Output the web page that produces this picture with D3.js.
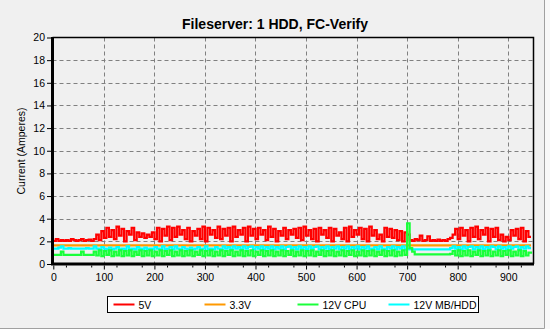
<!DOCTYPE html>
<html>
<head>
<meta charset="utf-8">
<script src="https://cdn.jsdelivr.net/npm/d3@7"></script>
<style>
  html, body { margin: 0; padding: 0; background: #f0f0f0; }
  svg { display: block; }
</style>
</head>
<body>
<div id="chart"></div>
<script>
// Samples every 5 seconds, 0..945
const sampleStep = 5;
const sampleCount = 190;

const current5V = [
  2.05,2.2,2.05,2.1,2.05,2.1,2.05,2.2,2.1,2.05,2.1,2.2,2.05,2.1,2.15,2.05,
  2.2,2.6,2.1,2.9,2.3,3.2,2.4,3.0,2.2,3.3,
  2.5,3.1,2.0,2.9,2.6,3.2,2.1,2.8,2.4,2.7,
  2.3,2.6,2.4,2.8,2.2,3.2,2.0,3.1,2.5,3.3,
  2.1,3.2,2.4,3.3,2.6,3.0,2.2,3.2,2.0,2.9,
  2.5,3.1,2.2,3.3,2.0,3.2,2.6,3.0,2.3,3.3,
  2.2,3.1,2.5,3.2,2.0,3.3,2.4,3.0,2.6,3.2,
  2.0,3.3,2.5,3.1,2.2,3.2,2.6,3.0,2.1,3.3,
  2.4,3.1,2.0,2.9,2.5,3.2,2.2,3.0,2.6,3.1,
  2.3,3.2,2.1,3.3,2.5,3.0,2.2,3.1,2.0,3.2,
  2.6,3.0,2.3,3.2,2.0,3.1,2.5,2.8,2.2,3.2,
  2.0,3.3,2.4,3.0,2.6,3.2,2.2,3.1,2.0,3.3,
  2.5,3.0,2.2,2.6,2.0,3.2,2.4,3.1,2.3,3.0,
  2.1,2.9,2.0,2.8,
  2.6,
  2.1,2.05,2.2,2.1,2.5,2.05,2.1,2.45,2.05,2.1,2.05,2.15,2.05,2.1,2.05,2.2,2.3,
  2.6,3.1,2.2,3.2,2.5,3.0,2.0,3.2,2.4,3.3,2.2,3.0,2.6,3.2,2.0,3.1,2.4,3.2,2.1,2.6,
  2.0,2.4,2.1,3.0,2.5,3.1,2.2,3.2,2.0,2.9,2.4,
  2.4
];

const current12VMB = [
  1.35,1.35,1.45,1.55,1.35,1.35,1.4,1.35,1.35,1.35,1.35,1.35,1.35,1.4,1.35,1.35,
  1.55,1.35,1.3,1.5,1.35,1.3,1.45,1.3,1.35,1.5,
  1.3,1.35,1.3,1.55,1.3,1.35,1.3,1.5,1.35,1.3,
  1.45,1.3,1.35,1.3,1.5,1.35,1.3,1.55,1.3,1.35,
  1.5,1.3,1.55,1.35,1.3,1.5,1.35,1.3,1.45,1.3,
  1.35,1.5,1.3,1.35,1.55,1.3,1.35,1.3,1.5,1.35,
  1.3,1.55,1.35,1.5,1.3,1.55,1.35,1.5,1.3,1.55,
  1.35,1.5,1.55,1.3,1.5,1.35,1.55,1.3,1.5,1.35,
  1.55,1.3,1.5,1.35,1.55,1.3,1.5,1.55,1.35,1.5,
  1.3,1.55,1.35,1.5,1.3,1.55,1.35,1.5,1.55,1.3,
  1.5,1.35,1.55,1.3,1.5,1.35,1.55,1.3,1.5,1.35,
  1.55,1.3,1.5,1.35,1.55,1.3,1.5,1.35,1.55,1.3,
  1.35,1.5,1.3,1.55,1.35,1.3,1.5,1.35,1.55,1.3,
  1.5,1.35,1.55,1.3,
  1.35,
  1.3,1.3,1.3,1.3,1.3,1.3,1.3,1.3,1.3,1.3,1.3,1.3,1.3,1.3,1.3,1.3,1.4,
  1.55,1.35,1.5,1.3,1.55,1.35,1.5,1.55,1.3,1.5,1.35,1.55,1.3,1.5,1.35,1.55,
  1.5,1.3,1.55,1.35,1.5,1.3,1.55,1.35,1.5,1.55,1.3,1.5,1.35,1.55,1.4,
  1.4
];

const current12VCPU = [
  0.8,0.8,0.8,1.1,0.8,0.8,0.8,0.8,0.8,0.8,0.8,1.1,0.8,0.8,0.8,0.8,
  1.1,0.75,1.2,0.7,1.15,0.8,1.2,0.7,1.1,0.75,
  1.2,0.7,1.15,0.75,1.2,0.7,1.1,0.8,1.2,0.7,
  1.15,0.75,1.2,0.7,1.1,0.75,1.2,0.7,1.15,0.8,
  1.2,0.7,1.1,0.75,1.2,0.7,1.15,0.75,1.2,0.7,
  1.1,0.8,1.2,0.7,1.15,0.75,1.2,0.7,1.1,0.75,
  1.2,0.7,1.15,0.8,1.2,0.7,1.1,0.75,1.2,0.7,
  1.15,0.75,1.2,0.7,1.1,0.8,1.2,0.7,1.15,0.75,
  1.2,0.7,1.1,0.75,1.2,0.7,1.15,0.8,1.2,0.7,
  1.1,0.75,1.2,0.7,1.15,0.75,1.2,0.7,1.1,0.8,
  1.2,0.7,1.15,0.75,1.2,0.7,1.1,0.75,1.2,0.7,
  1.15,0.8,1.2,0.7,1.1,0.75,1.2,0.7,1.15,0.75,
  1.2,0.7,1.1,0.8,1.2,0.7,1.15,0.75,1.2,0.7,
  1.1,0.75,1.2,0.8,
  3.6,
  1.4,1.1,0.85,0.85,0.85,0.85,0.85,0.85,0.85,0.85,0.85,0.85,0.85,0.85,0.85,0.85,0.9,
  1.15,0.75,1.2,0.7,1.15,0.75,1.2,0.7,1.1,0.8,1.2,0.7,1.15,0.75,1.2,0.7,
  1.1,0.75,1.2,0.7,1.15,0.8,1.2,0.7,1.1,0.75,1.2,0.7,1.15,0.75,1.0,
  0.9
];

// 3.3V rail is flat, read at a few points
const time3V3 = [0, 200, 400, 600, 800, 945];
const current3V3 = [1.65, 1.65, 1.65, 1.65, 1.65, 1.65];

const xTicks = [0, 100, 200, 300, 400, 500, 600, 700, 800, 900];
const yTicks = [0, 2, 4, 6, 8, 10, 12, 14, 16, 18, 20];

const seriesNames = ["5V", "3.3V", "12V CPU", "12V MB/HDD"];
const seriesColors = ["#ff0000", "#ff9900", "#1aff3a", "#00ffff"];

// Chart dimensions
const width = 550;
const height = 329;
const plotLeft = 52.5;
const plotRight = 533.5;
const plotTop = 37.5;
const plotBottom = 264;

const time = d3.range(sampleCount).map(i => i * sampleStep);

const x = d3.scaleLinear()
    .domain([0, 950])
    .range([plotLeft + 0.8, plotRight]);

const y = d3.scaleLinear()
    .domain([0, 20])
    .range([plotBottom, plotTop]);

const color = d3.scaleOrdinal()
    .domain(seriesNames)
    .range(seriesColors);

const svg = d3.select("#chart").append("svg")
    .attr("width", width)
    .attr("height", height)
    .attr("viewBox", [0, 0, width, height]);

// outer frame
svg.append("rect")
    .attr("width", width)
    .attr("height", height)
    .attr("fill", "#f8f8f8");
svg.append("rect")
    .attr("width", 544)
    .attr("height", 328)
    .attr("fill", "#f0f0f0");
svg.append("path")
    .attr("d", "M544.5,0V328.5H0")
    .attr("fill", "none")
    .attr("stroke", "#a0a0a0");

// Title
svg.append("text")
    .attr("x", 275)
    .attr("y", 29)
    .attr("text-anchor", "middle")
    .style("font-family", "Liberation Sans, Arial, sans-serif")
    .style("font-size", "14px")
    .style("font-weight", "bold")
    .text("Fileserver: 1 HDD, FC-Verify");

// Gridlines
const grid = svg.append("g")
    .attr("stroke", "#808080")
    .attr("stroke-dasharray", "4,3")
    .attr("stroke-width", 1);

grid.selectAll(".vgrid")
  .data(xTicks.filter(d => d > 0))
  .join("line")
    .attr("x1", d => Math.round(x(d)) + 0.5)
    .attr("x2", d => Math.round(x(d)) + 0.5)
    .attr("y1", plotTop)
    .attr("y2", plotBottom);

grid.selectAll(".hgrid")
  .data(yTicks.filter(d => d > 0 && d < 20))
  .join("line")
    .attr("x1", plotLeft)
    .attr("x2", plotRight)
    .attr("y1", d => Math.round(y(d)) + 0.5)
    .attr("y2", d => Math.round(y(d)) + 0.5);

// Series lines
const line = d3.line()
    .x(d => x(d[0]))
    .y(d => y(d[1]))
    .curve(d3.curveStepAfter);

const series = [
  { name: "5V", values: d3.zip(time, current5V) },
  { name: "3.3V", values: d3.zip(time3V3, current3V3) },
  { name: "12V MB/HDD", values: d3.zip(time, current12VMB) },
  { name: "12V CPU", values: d3.zip(time, current12VCPU) }
];

svg.append("g")
  .selectAll("path")
  .data(series)
  .join("path")
    .attr("fill", "none")
    .attr("stroke", d => color(d.name))
    .attr("stroke-width", 2.2)
    .attr("d", d => line(d.values));

// Plot border (thin top/right, thick left/bottom axes)
svg.append("path")
    .attr("d", `M${plotLeft},${plotTop}H${plotRight}V${plotBottom}`)
    .attr("fill", "none")
    .attr("stroke", "#000")
    .attr("stroke-width", 1.5);

svg.append("path")
    .attr("d", `M${plotLeft},${plotTop - 0.5}V${plotBottom}H${plotRight + 0.5}`)
    .attr("fill", "none")
    .attr("stroke", "#000")
    .attr("stroke-width", 3);

// X axis
const xAxis = svg.append("g")
    .attr("transform", `translate(0,${plotBottom + 1.5})`)
    .call(d3.axisBottom(x).tickValues(xTicks).tickSize(4).tickPadding(4))
    .call(g => g.select(".domain").remove());

xAxis.selectAll("text")
    .style("font-family", "Liberation Sans, Arial, sans-serif")
    .style("font-size", "10.5px")
    .attr("fill", "#000");

svg.append("g")
    .attr("transform", `translate(0,${plotBottom + 1.5})`)
    .call(d3.axisBottom(x).tickValues(d3.range(25, 950, 50)).tickSize(2).tickFormat(""))
    .call(g => g.select(".domain").remove());

// Y axis
const yAxis = svg.append("g")
    .attr("transform", `translate(${plotLeft - 1.5},0)`)
    .call(d3.axisLeft(y).tickValues(yTicks).tickSize(4).tickPadding(2))
    .call(g => g.select(".domain").remove());

yAxis.selectAll("text")
    .style("font-family", "Liberation Sans, Arial, sans-serif")
    .style("font-size", "10.5px")
    .attr("fill", "#000");

// Y axis label
svg.append("text")
    .attr("transform", `translate(25,151) rotate(-90)`)
    .attr("text-anchor", "middle")
    .style("font-family", "Liberation Sans, Arial, sans-serif")
    .style("font-size", "10.5px")
    .text("Current (Amperes)");

// Legend
const legend = svg.append("g")
    .attr("transform", "translate(107.5,296.5)");

legend.append("rect")
    .attr("width", 371)
    .attr("height", 16)
    .attr("fill", "#fff")
    .attr("stroke", "#000");

const legendX = [6, 97, 190, 281];

const legendItem = legend.selectAll(".legend-item")
  .data(seriesNames)
  .join("g")
    .attr("transform", (d, i) => `translate(${legendX[i]},8)`);

legendItem.append("line")
    .attr("x1", 0)
    .attr("x2", 21)
    .attr("stroke", d => color(d))
    .attr("stroke-width", 2);

legendItem.append("text")
    .attr("x", 25)
    .attr("y", 4)
    .style("font-family", "Liberation Sans, Arial, sans-serif")
    .style("font-size", "10.5px")
    .text(d => d);
</script>
</body>
</html>
